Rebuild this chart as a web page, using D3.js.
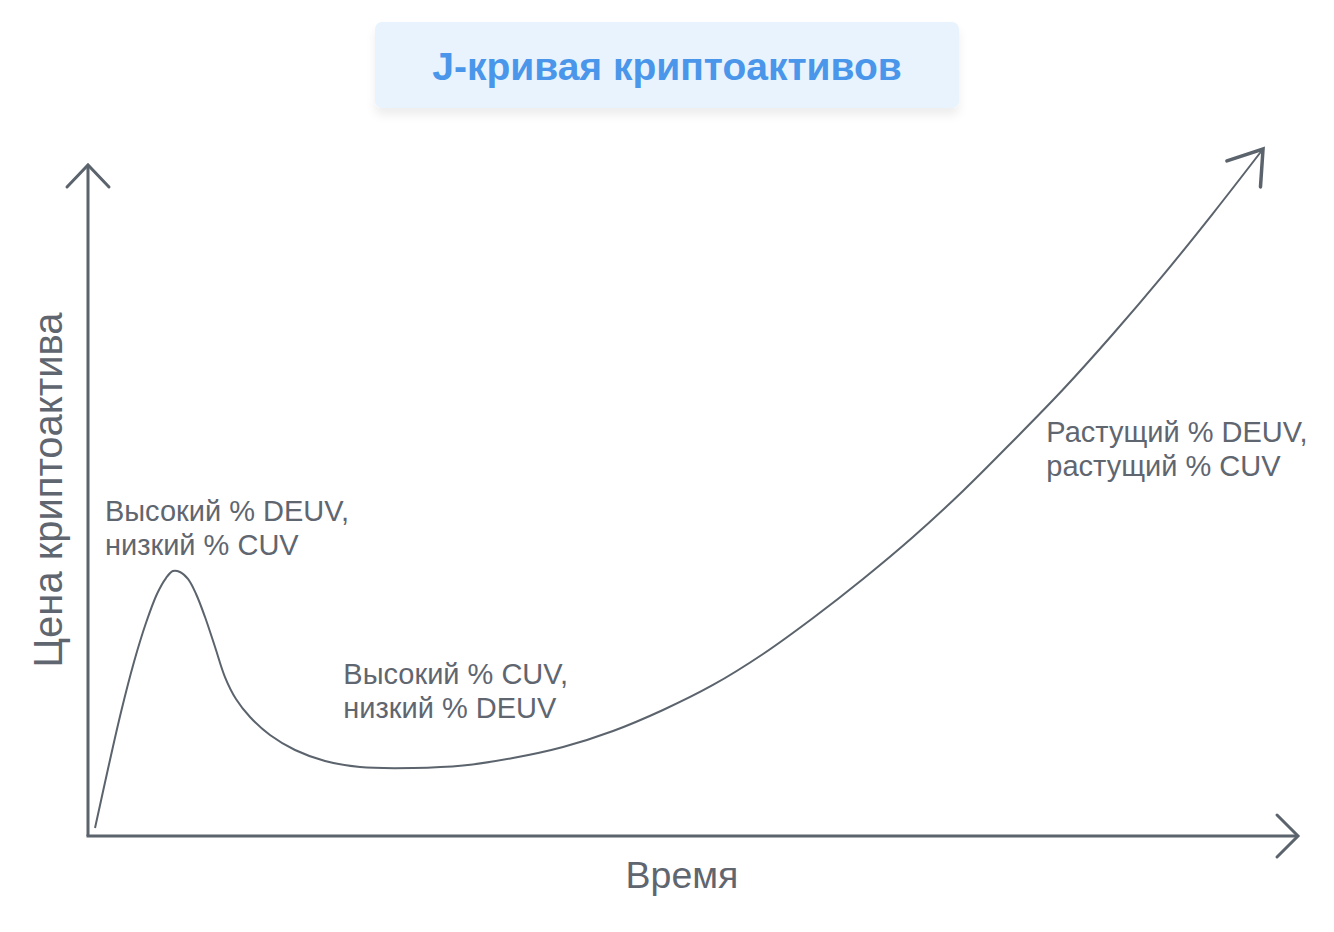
<!DOCTYPE html>
<html>
<head>
<meta charset="utf-8">
<script src="https://cdn.jsdelivr.net/npm/d3@7"></script>
<style>
  html, body { margin: 0; padding: 0; background: #ffffff; }
  svg { display: block; }
</style>
</head>
<body>
<svg id="chart" width="1334" height="932"></svg>
<script>
// ---- data ----
const titleText = "J-кривая криптоактивов";
const xAxisLabel = "Время";
const yAxisLabel = "Цена криптоактива";
// time (0..100) and price (0..100)
const timeValues = [0.58, 1.65, 2.73, 3.80, 4.79, 5.70, 6.45, 7.02, 7.60, 8.26, 8.93, 9.67, 10.50, 11.32,
  12.23, 13.39, 15.04, 17.11, 19.59, 22.48, 26.86, 30.99, 35.12, 39.26, 43.39, 47.52, 51.65, 55.79,
  59.92, 64.05, 68.18, 72.31, 76.45, 80.58, 84.71, 88.84, 92.98, 97.11];
const priceValues = [1.16, 9.75, 18.05, 25.33, 31.0, 35.23, 37.55, 38.57, 38.43, 37.41, 35.23, 31.88, 27.51, 23.14,
  19.94, 17.32, 14.70, 12.52, 10.92, 10.04, 9.90, 10.26, 11.35, 12.95, 15.28, 18.34, 21.98, 26.49,
  31.73, 37.41, 43.52, 50.22, 57.50, 64.99, 73.07, 81.60, 90.64, 100];
const annotationLines = [
  ["Высокий % DEUV,", "низкий % CUV"],
  ["Высокий % CUV,", "низкий % DEUV"],
  ["Растущий % DEUV,", "растущий % CUV"]
];
const annotationTime = [1.4, 21.1, 79.2];
const annotationPrice = [45.85, 22.18, 57.29];

// ---- layout ----
const axisColor = "#5b636c";
const textColor = "#5f6670";
const x0 = 88, y0 = 836;
const xEnd = 1298, yEnd = 165;

const svg = d3.select("#chart");
const defs = svg.append("defs");
const f = defs.append("filter").attr("id", "shadow").attr("x", "-10%").attr("y", "-30%").attr("width", "120%").attr("height", "180%");
f.append("feDropShadow").attr("dx", 0).attr("dy", 7).attr("stdDeviation", 5)
  .attr("flood-color", "#000").attr("flood-opacity", 0.07);

// title box
svg.append("rect")
  .attr("x", 375).attr("y", 22).attr("width", 584).attr("height", 86)
  .attr("rx", 7).attr("ry", 7)
  .attr("fill", "#e8f3fd")
  .attr("filter", "url(#shadow)");
svg.append("text")
  .attr("x", 667).attr("y", 80)
  .attr("text-anchor", "middle")
  .attr("font-family", "'Liberation Sans', Arial, sans-serif")
  .attr("font-weight", "bold")
  .attr("font-size", 39)
  .attr("fill", "#4a96ea")
  .text(titleText);

// scales
const x = d3.scaleLinear().domain([0, 100]).range([x0, xEnd]);
const y = d3.scaleLinear().domain([0, 100]).range([y0, 149]);

const g = svg.append("g");

// axes
g.append("line").attr("x1", x0).attr("y1", y0).attr("x2", x0).attr("y2", yEnd)
  .attr("stroke", axisColor).attr("stroke-width", 3);
g.append("line").attr("x1", x0 - 1.5).attr("y1", y0).attr("x2", xEnd).attr("y2", y0)
  .attr("stroke", axisColor).attr("stroke-width", 3);
// arrowheads on axes
g.append("path")
  .attr("d", `M${x0 - 21},${yEnd + 22} L${x0},${yEnd} L${x0 + 21},${yEnd + 22}`)
  .attr("fill", "none").attr("stroke", axisColor).attr("stroke-width", 3).attr("stroke-linecap", "round");
g.append("path")
  .attr("d", `M${xEnd - 21},${y0 - 21} L${xEnd},${y0} L${xEnd - 21},${y0 + 21}`)
  .attr("fill", "none").attr("stroke", axisColor).attr("stroke-width", 3).attr("stroke-linecap", "round");

// curve
const pts = timeValues.map((t, i) => [x(t), y(priceValues[i])]);
const line = d3.line().curve(d3.curveCatmullRom.alpha(0.5));
g.append("path").attr("d", line(pts))
  .attr("fill", "none").attr("stroke", axisColor).attr("stroke-width", 2);

// arrowhead at curve end
const pEnd = pts[pts.length - 1], pPrev = pts[pts.length - 2];
const ang = Math.atan2(pPrev[1] - pEnd[1], pPrev[0] - pEnd[0]);
const armLen = 38, half = 34 * Math.PI / 180;
const a1 = [pEnd[0] + armLen * Math.cos(ang - half), pEnd[1] + armLen * Math.sin(ang - half)];
const a2 = [pEnd[0] + armLen * Math.cos(ang + half), pEnd[1] + armLen * Math.sin(ang + half)];
g.append("path")
  .attr("d", `M${a1[0]},${a1[1]} L${pEnd[0]},${pEnd[1]} L${a2[0]},${a2[1]}`)
  .attr("fill", "none").attr("stroke", axisColor).attr("stroke-width", 3.5)
  .attr("stroke-linecap", "round").attr("stroke-linejoin", "miter");

// annotations
annotationLines.forEach((lines, i) => {
  const t = g.append("text")
    .attr("x", x(annotationTime[i])).attr("y", y(annotationPrice[i]))
    .attr("font-family", "'Liberation Sans', Arial, sans-serif")
    .attr("font-size", 29)
    .attr("fill", textColor);
  lines.forEach((s, j) => {
    t.append("tspan").attr("x", x(annotationTime[i])).attr("dy", j === 0 ? 0 : 34).text(s);
  });
});

// axis titles
svg.append("text")
  .attr("x", 682).attr("y", 888)
  .attr("text-anchor", "middle")
  .attr("font-family", "'Liberation Sans', Arial, sans-serif")
  .attr("font-size", 37.5)
  .attr("fill", textColor)
  .text(xAxisLabel);
svg.append("text")
  .attr("transform", "translate(62,490) rotate(-90)")
  .attr("text-anchor", "middle")
  .attr("font-family", "'Liberation Sans', Arial, sans-serif")
  .attr("font-size", 40)
  .attr("fill", textColor)
  .text(yAxisLabel);
</script>
</body>
</html>
